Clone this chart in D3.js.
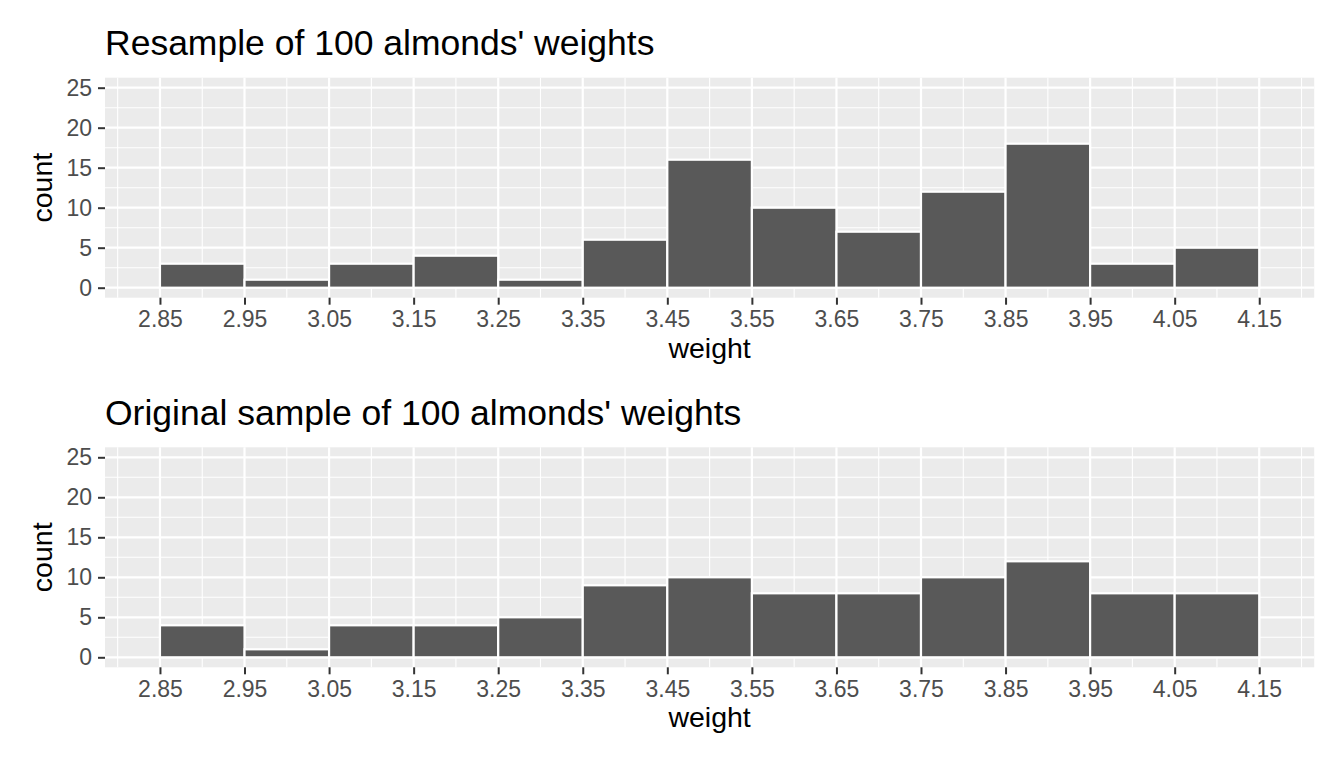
<!DOCTYPE html>
<html>
<head>
<meta charset="utf-8">
<script src="https://cdn.jsdelivr.net/npm/d3@7"></script>
<style>
  body { margin: 0; background: #fff; }
  svg { display: block; font-family: "Liberation Sans", Arial, sans-serif; }
</style>
</head>
<body>
<svg id="chart" width="1344" height="768"></svg>
<script>
// bin edges (also the x tick labels)
var breaks = ["2.85", "2.95", "3.05", "3.15", "3.25", "3.35", "3.45",
              "3.55", "3.65", "3.75", "3.85", "3.95", "4.05", "4.15"];
var yTicks = [0, 5, 10, 15, 20, 25];

// counts per bin
var resampleCounts = [3, 1, 3, 4, 1, 6, 16, 10, 7, 12, 18, 3, 5];
var originalCounts = [4, 1, 4, 4, 5, 9, 10, 8, 8, 10, 12, 8, 8];

var panels = [
    { title: "Resample of 100 almonds' weights", counts: resampleCounts, top: 77.7 },
    { title: "Original sample of 100 almonds' weights", counts: originalCounts, top: 447.3 }
];

var svg = d3.select('#chart');
var left = 105, right = 1314.2, ph = 220;

var edges = breaks.map(Number);
var lo = edges[0], hi = edges[edges.length - 1];
var padX = (hi - lo) * 0.05;
var x = d3.scaleLinear().domain([lo - padX, hi + padX]).range([left, right]);

// minor breaks sit halfway between the major ones
var minorX = [lo - 0.05].concat(edges.map(function (d) { return d + 0.05; }));
var minorY = [2.5, 7.5, 12.5, 17.5, 22.5];

panels.forEach(function (p) {
    var y = d3.scaleLinear().domain([-1.25, 26.25]).range([p.top + ph, p.top]);
    var g = svg.append('g');

    g.append('rect')
        .attr('x', left).attr('y', p.top)
        .attr('width', right - left).attr('height', ph)
        .attr('fill', '#ebebeb');

    // grid
    g.selectAll('.mx').data(minorX).enter().append('line')
        .attr('x1', function (d) { return x(d); }).attr('x2', function (d) { return x(d); })
        .attr('y1', p.top).attr('y2', p.top + ph)
        .attr('stroke', '#fff').attr('stroke-width', 1.1);
    g.selectAll('.my').data(minorY).enter().append('line')
        .attr('x1', left).attr('x2', right)
        .attr('y1', function (d) { return y(d); }).attr('y2', function (d) { return y(d); })
        .attr('stroke', '#fff').attr('stroke-width', 1.1);
    g.selectAll('.gx').data(edges).enter().append('line')
        .attr('x1', function (d) { return x(d); }).attr('x2', function (d) { return x(d); })
        .attr('y1', p.top).attr('y2', p.top + ph)
        .attr('stroke', '#fff').attr('stroke-width', 2.2);
    g.selectAll('.gy').data(yTicks).enter().append('line')
        .attr('x1', left).attr('x2', right)
        .attr('y1', function (d) { return y(d); }).attr('y2', function (d) { return y(d); })
        .attr('stroke', '#fff').attr('stroke-width', 2.2);

    // bars
    g.selectAll('.bar').data(p.counts).enter().append('rect')
        .attr('x', function (d, i) { return x(edges[i]); })
        .attr('width', function (d, i) { return x(edges[i + 1]) - x(edges[i]); })
        .attr('y', function (d) { return y(d); })
        .attr('height', function (d) { return y(0) - y(d); })
        .attr('fill', '#595959')
        .attr('stroke', '#fff')
        .attr('stroke-width', 2.2);

    // axes
    var xAxis = g.append('g')
        .attr('transform', 'translate(0,' + (p.top + ph) + ')')
        .call(d3.axisBottom(x).tickValues(edges)
            .tickFormat(function (d, i) { return breaks[i]; })
            .tickSize(7).tickPadding(6));
    var yAxis = g.append('g')
        .attr('transform', 'translate(' + left + ',0)')
        .call(d3.axisLeft(y).tickValues(yTicks).tickSize(7).tickPadding(6));

    [xAxis, yAxis].forEach(function (a) {
        a.select('.domain').remove();
        a.selectAll('line').attr('stroke', '#333333').attr('stroke-width', 2);
        a.selectAll('text').attr('fill', '#4d4d4d')
            .style('font-size', '23px').style('font-family', '"Liberation Sans", Arial, sans-serif');
    });

    g.append('text')
        .attr('x', left).attr('y', p.top - 22.7)
        .style('font-size', '35.5px')
        .text(p.title);

    g.append('text')
        .attr('x', (left + right) / 2).attr('y', p.top + ph + 60)
        .attr('text-anchor', 'middle')
        .style('font-size', '28.5px')
        .text('weight');

    g.append('text')
        .attr('transform', 'translate(52,' + (p.top + ph / 2) + ') rotate(-90)')
        .attr('text-anchor', 'middle')
        .style('font-size', '28.5px')
        .text('count');
});
</script>
</body>
</html>
